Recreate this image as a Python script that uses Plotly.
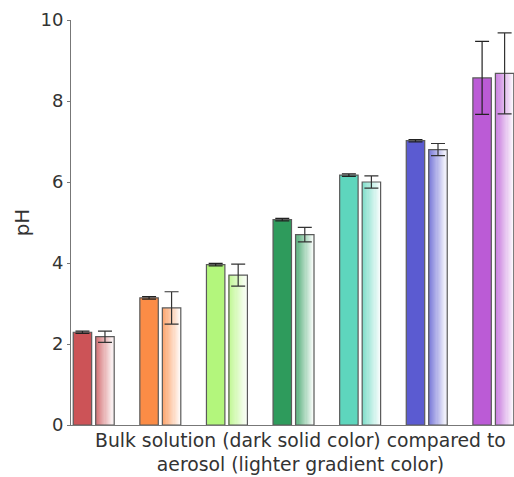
import plotly.graph_objects as go

groups = [0, 1, 2, 3, 4, 5, 6]
bulk_ph = [2.29, 3.14, 3.96, 5.07, 6.17, 7.02, 8.57]
bulk_err = [0.03, 0.03, 0.03, 0.03, 0.03, 0.03, 0.90]
aerosol_ph = [2.18, 2.89, 3.70, 4.70, 6.00, 6.80, 8.68]
aerosol_err = [0.14, 0.40, 0.27, 0.18, 0.15, 0.15, 1.00]
colors = ["#cc5357", "#fb8c46", "#b3f67c", "#2e9b5c", "#5ed6bd", "#5b5bd1", "#bb5bd6"]
y_ticks = [0, 2, 4, 6, 8, 10]
x_title = "Bulk solution (dark solid color) compared to<br>aerosol (lighter gradient color)"

def hex2rgb(h):
    h = h.lstrip("#")
    return tuple(int(h[i:i + 2], 16) for i in (0, 2, 4))

def mix(h, t):
    r, g, b = hex2rgb(h)
    return "rgb(%d,%d,%d)" % (r + (255 - r) * t, g + (255 - g) * t, b + (255 - b) * t)

BW = 0.277
OFF = 0.169
edge = "#5a5a5a"

fig = go.Figure()

# bulk solution bars (solid)
fig.add_trace(go.Bar(
    x=groups, y=bulk_ph, width=BW, offset=-OFF - BW / 2,
    marker=dict(color=colors, line=dict(color=edge, width=1.2)),
    error_y=dict(type="data", array=bulk_err, color="#222", thickness=1.2, width=7),
    showlegend=False,
))

# aerosol bars (gradient: many thin slices)
N = 16
step = BW / N
for k in range(N):
    t = 0.2 + 0.75 * (k / (N - 1))
    fig.add_trace(go.Bar(
        x=groups, y=aerosol_ph, width=step * 1.15,
        offset=OFF - BW / 2 + k * step,
        marker=dict(color=[mix(c, t) for c in colors], line=dict(width=0)),
        showlegend=False, hoverinfo="skip",
    ))

# aerosol outline + error bars
fig.add_trace(go.Bar(
    x=groups, y=aerosol_ph, width=BW, offset=OFF - BW / 2,
    marker=dict(color="rgba(0,0,0,0)", line=dict(color=edge, width=1.2)),
    error_y=dict(type="data", array=aerosol_err, color="#333", thickness=1.2, width=7),
    showlegend=False,
))

fig.update_layout(
    width=514, height=477,
    margin=dict(l=71, r=0, t=20, b=52),
    barmode="overlay",
    plot_bgcolor="white", paper_bgcolor="white",
    font=dict(family="DejaVu Sans", color="#333", size=16),
    annotations=[dict(
        text=x_title, xref="paper", yref="paper", x=0.517, y=0,
        xanchor="center", yanchor="top", yshift=-3, showarrow=False,
        font=dict(size=18.8, color="#333"),
    )],
)
fig.update_xaxes(
    range=[-0.341, 6.31], showticklabels=False, ticks="",
    showgrid=False, zeroline=False,
    showline=True, linecolor="#777", linewidth=1,
)
fig.update_yaxes(
    range=[0, 10], tickvals=y_ticks, ticks="outside", ticklen=3, tickcolor="#777",
    showgrid=False, zeroline=False,
    showline=True, linecolor="#777", linewidth=1,
    tickfont=dict(size=18, color="#333"),
    title=dict(text="pH", font=dict(size=20, color="#333"), standoff=5),
)

fig.write_html("out.html")
